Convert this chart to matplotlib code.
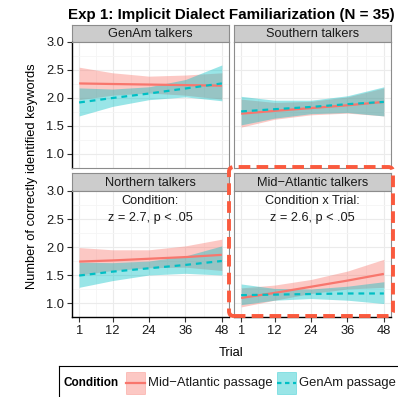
import numpy as np
import matplotlib
matplotlib.use('Agg')
import matplotlib.pyplot as plt
from matplotlib.patches import FancyBboxPatch, Rectangle
from matplotlib.lines import Line2D

plt.rcParams['font.family'] = ['Liberation Sans', 'DejaVu Sans']

W, H = 398, 397

trials = [1, 12, 24, 36, 48]
panels = ['GenAm talkers', 'Southern talkers', 'Northern talkers', 'Mid\u2212Atlantic talkers']
conditions = ['Mid\u2212Atlantic passage', 'GenAm passage']

# Mid-Atlantic passage: fitted mean, lower, upper
mid_fit = {
    'GenAm talkers':        [2.26, 2.25, 2.24, 2.23, 2.22],
    'Southern talkers':     [1.72, 1.77, 1.82, 1.87, 1.93],
    'Northern talkers':     [1.74, 1.76, 1.79, 1.82, 1.86],
    'Mid\u2212Atlantic talkers': [1.09, 1.18, 1.29, 1.40, 1.52],
}
mid_lo = {
    'GenAm talkers':        [1.97, 2.05, 2.09, 2.05, 1.98],
    'Southern talkers':     [1.48, 1.62, 1.70, 1.73, 1.68],
    'Northern talkers':     [1.50, 1.58, 1.63, 1.64, 1.58],
    'Mid\u2212Atlantic talkers': [0.93, 1.05, 1.17, 1.25, 1.28],
}
mid_hi = {
    'GenAm talkers':        [2.55, 2.45, 2.39, 2.41, 2.45],
    'Southern talkers':     [1.98, 1.92, 1.94, 2.02, 2.18],
    'Northern talkers':     [1.99, 1.95, 1.95, 2.02, 2.14],
    'Mid\u2212Atlantic talkers': [1.27, 1.32, 1.42, 1.57, 1.78],
}
# GenAm passage
gen_fit = {
    'GenAm talkers':        [1.92, 2.00, 2.08, 2.17, 2.26],
    'Southern talkers':     [1.76, 1.80, 1.84, 1.89, 1.93],
    'Northern talkers':     [1.49, 1.56, 1.62, 1.68, 1.75],
    'Mid\u2212Atlantic talkers': [1.14, 1.15, 1.16, 1.17, 1.17],
}
gen_lo = {
    'GenAm talkers':        [1.68, 1.85, 1.97, 2.02, 1.95],
    'Southern talkers':     [1.52, 1.64, 1.72, 1.74, 1.68],
    'Northern talkers':     [1.28, 1.40, 1.50, 1.53, 1.50],
    'Mid\u2212Atlantic talkers': [0.97, 1.05, 1.08, 1.05, 0.99],
}
gen_hi = {
    'GenAm talkers':        [2.18, 2.16, 2.20, 2.33, 2.59],
    'Southern talkers':     [2.03, 1.96, 1.96, 2.04, 2.20],
    'Northern talkers':     [1.73, 1.72, 1.75, 1.84, 2.02],
    'Mid\u2212Atlantic talkers': [1.34, 1.26, 1.25, 1.30, 1.38],
}
notes = {
    'Northern talkers': ['Condition:', 'z = 2.7, p < .05'],
    'Mid\u2212Atlantic talkers': ['Condition x Trial:', 'z = 2.6, p < .05'],
}

red = '#F8766D'
cyan = '#00BFC4'


def px_axes(fig, x0, y0, x1, y1):
    # pixel box (top-left origin) -> axes
    return fig.add_axes([x0 / W, 1 - y1 / H, (x1 - x0) / W, (y1 - y0) / H])


fig = plt.figure(figsize=(W / 100, H / 100), dpi=100)

cols = [(72, 229), (234, 391)]
rows = [(25, 42, 168), (173, 191, 317)]

for i, name in enumerate(panels):
    r, c = divmod(i, 2)
    x0, x1 = cols[c]
    s0, p0, p1 = rows[r]

    # strip
    sax = px_axes(fig, x0, s0, x1, p0)
    sax.set_facecolor('#CCCCCC')
    sax.set_xticks([])
    sax.set_yticks([])
    for sp in sax.spines.values():
        sp.set_color('#8C8C8C')
        sp.set_linewidth(0.8)
    sax.text(0.5, 0.47, name, ha='center', va='center', fontsize=9.2, color='#1A1A1A',
             transform=sax.transAxes)

    ax = px_axes(fig, x0, p0, x1, p1)
    ax.set_xlim(-1.35, 50.35)
    ax.set_ylim(0.76, 3.0)
    ax.set_xticks(trials)
    ax.set_xticks([6.5, 18, 30, 42], minor=True)
    ax.set_yticks([1.0, 1.5, 2.0, 2.5, 3.0])
    ax.set_yticks([0.75, 1.25, 1.75, 2.25, 2.75], minor=True)
    ax.grid(which='major', color='#EBEBEB', lw=0.8)
    ax.grid(which='minor', color='#F5F5F5', lw=0.6)
    ax.set_axisbelow(True)
    for sp in ax.spines.values():
        sp.set_color('#8C8C8C')
        sp.set_linewidth(0.8)
    ax.tick_params(which='minor', length=0)
    ax.tick_params(which='major', length=3.5, width=0.8, color='#333333',
                   labelsize=9.3, labelcolor='#1A1A1A', pad=2)

    if c == 0:
        ax.spines['left'].set_color('black')
        ax.spines['left'].set_linewidth(1.0)
        ax.set_yticklabels(['1.0', '1.5', '2.0', '2.5', '3.0'])
    else:
        ax.tick_params(axis='y', length=0, labelleft=False)
    if r == 1:
        ax.spines['bottom'].set_color('black')
        ax.spines['bottom'].set_linewidth(1.0)
        ax.set_xticklabels([str(t) for t in trials])
    else:
        ax.tick_params(axis='x', length=0, labelbottom=False)

    ax.fill_between(trials, mid_lo[name], mid_hi[name], color=red, alpha=0.4, lw=0)
    ax.plot(trials, mid_fit[name], color=red, lw=1.6, solid_capstyle='butt')
    ax.fill_between(trials, gen_lo[name], gen_hi[name], color=cyan, alpha=0.4, lw=0)
    ax.plot(trials, gen_fit[name], color=cyan, lw=1.6, dashes=(2.6, 2.2))

    if name in notes:
        ax.text(24.5, 2.83, notes[name][0], ha='center', va='center', fontsize=9.2, color='#1A1A1A')
        ax.text(24.5, 2.51, notes[name][1], ha='center', va='center', fontsize=9.2, color='#1A1A1A')

fig.text(231 / W, 1 - 15 / H, 'Exp 1: Implicit Dialect Familiarization (N = 35)',
         ha='center', va='center', fontsize=10.9, fontweight='bold')
fig.text(231 / W, 1 - 353 / H, 'Trial', ha='center', va='center', fontsize=9.3)
fig.text(32 / W, 1 - 176 / H, 'Number of correctly identified keywords', ha='center',
         va='center', rotation=90, fontsize=9.3)

# highlight box around Mid-Atlantic panel
box = FancyBboxPatch((229 / W, 1 - 316 / H), 164 / W, 149 / H,
                     boxstyle='round,pad=0,rounding_size=0.012',
                     transform=fig.transFigure, fill=False, edgecolor='#FA5A3E',
                     lw=2.8, linestyle=(0, (3.0, 1.6)), zorder=10)
fig.patches.append(box)

# legend (cut by the figure edge, as in the original)
lax = px_axes(fig, 59, 366, 420, 402)
lax.set_xlim(0, 361)
lax.set_ylim(36, 0)
lax.set_xticks([])
lax.set_yticks([])
for sp in lax.spines.values():
    sp.set_color('black')
    sp.set_linewidth(0.8)
lax.text(5, 17, 'Condition', fontweight='bold', fontsize=8.5, va='center', ha='left')
keys = [(67, red, '-'), (218, cyan, '--')]
for (kx, col, ls), lab in zip(keys, conditions):
    lax.add_patch(Rectangle((kx, 6), 19, 22, facecolor=col, alpha=0.4, edgecolor=col, lw=0.6))
    if ls == '-':
        lax.add_line(Line2D([kx, kx + 19], [17, 17], color=col, lw=1.6))
    else:
        lax.add_line(Line2D([kx, kx + 19], [17, 17], color=col, lw=1.6, dashes=(2.0, 1.6)))
    lax.text(kx + 22, 17, lab, fontsize=9.4, va='center', ha='left', color='#1A1A1A')

fig.savefig('out.png', dpi=100)
